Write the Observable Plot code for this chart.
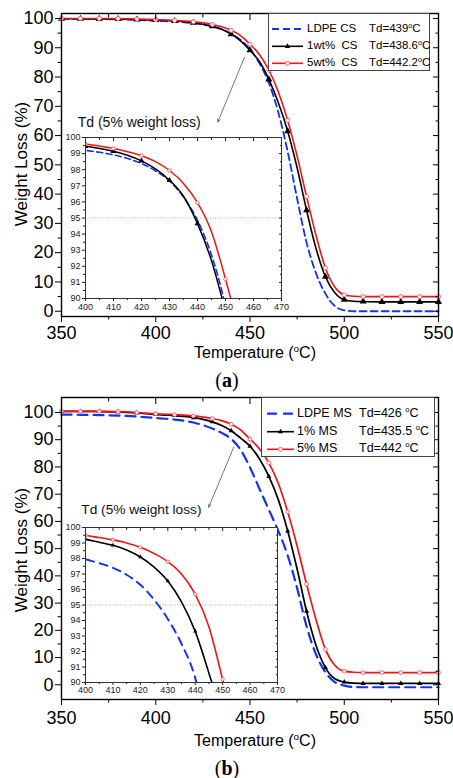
<!DOCTYPE html>
<html><head><meta charset="utf-8">
<script src="https://cdn.jsdelivr.net/npm/d3@7"></script>
<script src="https://cdn.jsdelivr.net/npm/@observablehq/plot@0.6"></script>
<style>
html,body{margin:0;padding:0;background:#fff;}
#root{position:relative;width:453px;height:778px;overflow:hidden;font-family:"Liberation Sans",Arial,sans-serif;color:#000;}
#root svg{position:absolute;overflow:visible;}
.txt{position:absolute;white-space:pre;line-height:1;}
sup{font-size:0.62em;line-height:0;vertical-align:0.6em;}
.legend{position:absolute;background:#fff;border:1px solid #444;box-sizing:border-box;}
</style></head><body><div id="root"></div>
<script>
// ---------- data ----------
const temps  = [350,360,370,380,390,400,405,410,415,420,425,430,435,440,445,450,455,460,465,470,475,480,485,490,495,500,505,510,520,530,540,550];
// panel (a)
const ldpeCS = [99.9,99.85,99.8,99.7,99.5,99.2,99.08,98.92,98.7,98.38,97.93,97.3,96.3,94.85,92.7,89.5,84.7,78,68,54.5,38.5,23.5,13,6,1.8,0.3,0,0,0,0,0,0];
const cs1    = [99.9,99.9,99.85,99.8,99.65,99.45,99.32,99.15,98.9,98.55,98.05,97.35,96.35,94.65,92.35,89.15,85.3,79.2,71.3,61.5,49,34.5,21.5,11.8,6.3,3.9,3.4,3.3,3.2,3.2,3.2,3.2];
const cs5    = [100,100,100,99.95,99.8,99.6,99.47,99.32,99.12,98.87,98.5,97.95,97.15,95.95,94.15,91.2,87.7,82.4,75,65.2,53,39.2,26,14.8,8.3,5.6,5.1,5.0,5,5,5,5];
// panel (b)
const ldpeMS = [99.2,99.15,99.05,98.85,98.5,97.95,97.7,97.4,96.95,96.3,95.35,94.1,92.5,90.3,86.3,79.8,72.0,64.3,56.5,47.5,35.5,21.5,11.2,4.6,1.0,-0.3,-0.8,-0.9,-0.9,-0.9,-0.9,-0.9];
const ms1    = [100.4,100.4,100.35,100.2,99.8,99.25,99.05,98.85,98.55,98.1,97.45,96.55,95.2,93.3,90.6,87.6,83,76.5,68,56.5,42.5,27,14.5,6.3,2.2,1.0,0.6,0.5,0.5,0.5,0.5,0.5];
const ms5    = [100.4,100.4,100.4,100.3,100.0,99.5,99.35,99.2,99.0,98.72,98.32,97.8,97.0,95.7,93.6,90.2,86.7,81.5,74,63.5,51,37,24,13,7.2,5.0,4.6,4.5,4.5,4.5,4.5,4.5];

const xMajor = [350,400,450,500,550];
const xMinor = [375,425,475,525];
const yMajor = [0,10,20,30,40,50,60,70,80,90,100];
const yMinor = [5,15,25,35,45,55,65,75,85,95];
const inXMajor = [400,410,420,430,440,450,460,470];
const inXMinor = [405,415,425,435,445,455,465];
const inYMajor = [90,91,92,93,94,95,96,97,98,99,100];
const inYMinor = [90.5,91.5,92.5,93.5,94.5,95.5,96.5,97.5,98.5,99.5];
const lossLevel = [95];

const namesA = ["LDPE CS", "1wt%  CS", "5wt%  CS"];
const tdA    = ["439", "438.6", "442.2"];
const namesB = ["LDPE MS", "1% MS", "5% MS"];
const tdB    = ["426 ", "435.5 ", "442 "];

const annoText = "Td (5% weight loss)";
const annoA  = [358.6, 64.6];          // temperature, weight
const annoB  = [360.5, 64.4];
const arrowA = [447.1, 86.8, 432.9, 64.6];
const arrowB = [441.4, 87.3, 428.1, 65.2];

// ---------- helpers ----------
const BLUE = "#1432f5", RED = "#f01414";
const FONT = "'Liberation Sans', Arial, sans-serif";
const root = document.getElementById("root");
const rowsOf = vals => temps.map((T, i) => ({T, W: vals[i]}));
const marked = rows => rows.filter(d => d.T % 10 === 0);
const hide = () => "";

function curveMarks(blue, black, red, o) {
  const clip = !!o.clip;
  return [
    Plot.line(blue, {x: "T", y: "W", curve: "monotone-x", stroke: BLUE, strokeWidth: o.bw, strokeDasharray: o.dash, clip}),
    Plot.line(black, {x: "T", y: "W", curve: "monotone-x", stroke: "#000", strokeWidth: o.lw, clip}),
    Plot.dot(marked(black), {x: "T", y: "W", symbol: "triangle", r: o.tr, fill: "#000", stroke: "none", clip}),
    Plot.line(red, {x: "T", y: "W", curve: "monotone-x", stroke: RED, strokeWidth: o.lw, clip}),
    Plot.dot(marked(red), {x: "T", y: "W", r: o.cr, fill: "#fff", stroke: "#f56", strokeWidth: 0.9, clip})
  ];
}

function axesMarks(o) {
  return [
    Plot.axisX({ticks: o.xMaj, anchor: "bottom", tickSize: o.big, tickPadding: o.padX, label: null, fontSize: o.fs}),
    Plot.axisX({ticks: o.xMin, anchor: "bottom", tickSize: o.small, tickFormat: hide, label: null}),
    Plot.axisX({ticks: o.xMaj, anchor: "top", tickSize: -o.big, tickFormat: hide, label: null}),
    Plot.axisX({ticks: o.xMin, anchor: "top", tickSize: -o.small, tickFormat: hide, label: null}),
    Plot.axisY({ticks: o.yMaj, anchor: "left", tickSize: o.big, tickPadding: o.padY, label: null, fontSize: o.fs}),
    Plot.axisY({ticks: o.yMin, anchor: "left", tickSize: o.small, tickFormat: hide, label: null}),
    Plot.axisY({ticks: o.yMaj, anchor: "right", tickSize: -o.big, tickFormat: hide, label: null}),
    Plot.axisY({ticks: o.yMin, anchor: "right", tickSize: -o.small, tickFormat: hide, label: null})
  ];
}

function mainPlot(o) {
  const svg = Plot.plot({
    width: 453, height: o.height,
    marginLeft: 61, marginRight: 15, marginTop: o.mt, marginBottom: o.height - o.mt - o.plotH,
    x: {domain: [350, 550], label: null},
    y: {domain: o.yDomain, label: null},
    style: {fontFamily: FONT, fontSize: "18px", color: "#000", background: "transparent", overflow: "visible"},
    marks: [
      ...curveMarks(o.blue, o.black, o.red, o.style),
      Plot.text([{label: annoText, T: o.anno[0], W: o.anno[1]}], {x: "T", y: "W", text: "label", textAnchor: "start", fontSize: o.annoFs, fill: "#111"}),
      Plot.arrow([{x1: o.arrow[0], y1: o.arrow[1], x2: o.arrow[2], y2: o.arrow[3]}], {x1: "x1", y1: "y1", x2: "x2", y2: "y2", stroke: "#555", strokeWidth: 0.8, headLength: 6, headAngle: 45}),
      ...axesMarks({xMaj: xMajor, xMin: xMinor, yMaj: yMajor, yMin: yMinor, big: 6, small: 3.5, padX: o.padX, padY: 2, fs: 18}),
      Plot.frame({stroke: "#000", strokeWidth: 1.4})
    ]
  });
  svg.style.left = "0px"; svg.style.top = o.top + "px";
  root.appendChild(svg);
}

function insetPlot(o) {
  const svg = Plot.plot({
    width: 22 + o.w + 4, height: 4 + o.h + 18,
    marginLeft: 22, marginRight: 4, marginTop: 4, marginBottom: 18,
    x: {domain: [400, 470], label: null},
    y: {domain: [90, 100], label: null},
    style: {fontFamily: FONT, fontSize: "9px", color: "#222", background: "transparent", overflow: "visible"},
    marks: [
      Plot.frame({fill: "#fff", stroke: "none"}),
      Plot.ruleY(lossLevel, {stroke: "#999", strokeWidth: 0.8, strokeDasharray: "1,1.5"}),
      ...curveMarks(o.blue, o.black, o.red, {...o.style, clip: true}),
      ...axesMarks({xMaj: inXMajor, xMin: inXMinor, yMaj: inYMajor, yMin: inYMinor, big: 3, small: 2, padX: o.padX, padY: 2, fs: 9}),
      Plot.frame({stroke: "#333", strokeWidth: 1})
    ]
  });
  svg.style.left = o.left + "px"; svg.style.top = o.top + "px";
  root.appendChild(svg);
}

function addText(html, css) {
  const d = document.createElement("div");
  d.className = "txt"; d.innerHTML = html;
  Object.assign(d.style, css);
  root.appendChild(d);
  return d;
}

function legend(o) {
  const box = document.createElement("div");
  box.className = "legend";
  Object.assign(box.style, {left: o.left + "px", top: o.top + "px", width: o.width + "px", height: o.height + "px", fontSize: o.fs + "px"});
  const kinds = ["blue", "black", "red"];
  o.names.forEach((name, i) => {
    const cy = o.rowY[i];
    const s = d3.create("svg").attr("width", o.width).attr("height", o.height)
      .style("position", "absolute").style("left", "0px").style("top", "0px");
    const k = kinds[i];
    const ln = s.append("line").attr("x1", o.s1).attr("x2", o.s2).attr("y1", cy).attr("y2", cy)
      .attr("stroke", k === "blue" ? BLUE : k === "red" ? RED : "#000")
      .attr("stroke-width", k === "blue" ? o.bw : 1.6);
    if (k === "blue") ln.attr("stroke-dasharray", o.dash);
    const mx = (o.s1 + o.s2) / 2;
    if (k === "black") s.append("path").attr("d", `M${mx},${cy - 3}L${mx + 2.6},${cy + 1.6}L${mx - 2.6},${cy + 1.6}Z`).attr("fill", "#000");
    if (k === "red") s.append("circle").attr("cx", mx).attr("cy", cy).attr("r", 2).attr("fill", "#fff").attr("stroke", "#f56").attr("stroke-width", 0.9);
    box.appendChild(s.node());
    const t1 = document.createElement("div");
    t1.className = "txt"; t1.textContent = name;
    Object.assign(t1.style, {left: o.t1 + "px", top: (cy - o.fs * 0.55) + "px"});
    box.appendChild(t1);
    const t2 = document.createElement("div");
    t2.className = "txt"; t2.innerHTML = "Td=" + o.td[i] + "<sup>o</sup>C";
    Object.assign(t2.style, {left: o.t2 + "px", top: (cy - o.fs * 0.55) + "px"});
    box.appendChild(t2);
  });
  root.appendChild(box);
}

// ---------- panel (a) ----------
const aBlue = rowsOf(ldpeCS), aBlack = rowsOf(cs1), aRed = rowsOf(cs5);
mainPlot({top: 0, height: 360, mt: 13, plotH: 303, yDomain: [-1.8, 101.7], padX: 4,
  blue: aBlue, black: aBlack, red: aRed,
  style: {bw: 1.8, dash: "7,4", lw: 1.6, tr: 2.6, cr: 2.1},
  anno: annoA, arrow: arrowA, annoFs: 14});
insetPlot({left: 63, top: 133, w: 196, h: 161, padX: 2,
  blue: aBlue, black: aBlack, red: aRed,
  style: {bw: 1.6, dash: "6,3.5", lw: 1.5, tr: 2.2, cr: 1.8}});
legend({left: 268, top: 13, width: 162, height: 58, fs: 11.5, names: namesA, td: tdA,
  rowY: [15, 32.3, 49.3], s1: 3, s2: 34, t1: 38, t2: 100, bw: 1.8, dash: "7,4"});
addText("Temperature (<sup>o</sup>C)", {left: "255px", top: "353px", fontSize: "16px", transform: "translate(-50%,-50%)"});
addText("Weight Loss (%)", {left: "21px", top: "164px", fontSize: "17px", transform: "translate(-50%,-50%) rotate(-90deg)"});
addText("(<b>a</b>)", {left: "227px", top: "380px", fontSize: "20px", fontFamily: "'Liberation Serif', 'DejaVu Serif', serif", transform: "translate(-50%,-50%)"});

// ---------- panel (b) ----------
const bBlue = rowsOf(ldpeMS), bBlack = rowsOf(ms1), bRed = rowsOf(ms5);
mainPlot({top: 384, height: 358, mt: 13, plotH: 302, yDomain: [-5.4, 105.5], padX: 6,
  blue: bBlue, black: bBlack, red: bRed,
  style: {bw: 2.2, dash: "10,6", lw: 1.7, tr: 1.9, cr: 1.9},
  anno: annoB, arrow: arrowB, annoFs: 13.7});
insetPlot({left: 63, top: 523, w: 192, h: 155, padX: 1.5,
  blue: bBlue, black: bBlack, red: bRed,
  style: {bw: 2.0, dash: "8,6", lw: 1.6, tr: 1.6, cr: 1.6}});
legend({left: 261, top: 397, width: 174, height: 60, fs: 12.5, names: namesB, td: tdB,
  rowY: [15.7, 33.7, 51.3], s1: 5, s2: 32, t1: 35, t2: 97, bw: 2.2, dash: "10,6"});
addText("Temperature (<sup>o</sup>C)", {left: "255px", top: "741px", fontSize: "16px", transform: "translate(-50%,-50%)"});
addText("Weight Loss (%)", {left: "21px", top: "550px", fontSize: "17px", transform: "translate(-50%,-50%) rotate(-90deg)"});
addText("(<b>b</b>)", {left: "227px", top: "768px", fontSize: "20px", fontFamily: "'Liberation Serif', 'DejaVu Serif', serif", transform: "translate(-50%,-50%)"});
</script></body></html>
